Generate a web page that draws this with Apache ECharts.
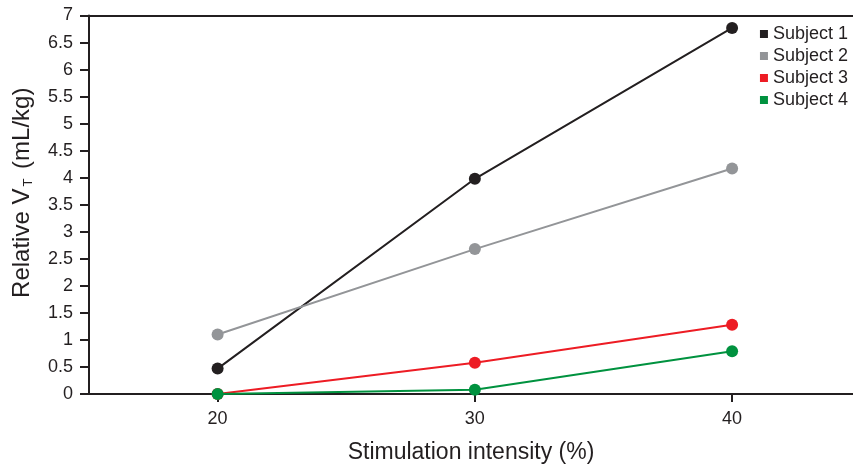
<!DOCTYPE html>
<html><head><meta charset="utf-8">
<script src="https://cdn.jsdelivr.net/npm/echarts@6/dist/echarts.min.js"></script>
<style>html,body{margin:0;padding:0;background:#fff}#c{width:853px;height:467px}</style>
</head><body><div id="c"></div>
<script>
const intensities = [20, 30, 40];
const xTicks = [20, 30, 40];
const subject1 = [0.47, 3.98, 6.77];
const subject2 = [1.1, 2.68, 4.17];
const subject3 = [0.0, 0.58, 1.28];
const subject4 = [0.0, 0.08, 0.79];
const seriesNames = ['Subject 1', 'Subject 2', 'Subject 3', 'Subject 4'];
const colors = ['#231f20', '#939598', '#ed1c24', '#00923f'];
const allData = [subject1, subject2, subject3, subject4];

const font = 'Liberation Sans, Arial, Helvetica, sans-serif';
const ink = '#231f20';
const chart = echarts.init(document.getElementById('c'));
chart.setOption({
  animation: false,
  backgroundColor: '#fff',
  grid: { left: 89, right: 0, top: 15.5, bottom: 73, containLabel: false, outerBoundsMode: 'none' },
  legend: {
    orient: 'vertical', right: 0, top: 20, icon: 'rect', itemWidth: 8, itemHeight: 8, itemGap: 4,
    textStyle: { fontFamily: font, fontSize: 18, color: ink },
    data: seriesNames
  },
  xAxis: [{
    type: 'value', min: 15, max: 44.7, position: 'bottom',
    axisLine: { show: true, onZero: false, lineStyle: { color: ink, width: 2 } },
    axisTick: { show: true, length: 8, lineStyle: { color: ink, width: 2 }, customValues: xTicks },
    axisLabel: { fontFamily: font, fontSize: 18, color: ink, margin: 16, customValues: xTicks },
    splitLine: { show: false },
    name: 'Stimulation intensity (%)', nameLocation: 'middle', nameGap: 47,
    nameTextStyle: { fontFamily: font, fontSize: 23, color: ink }
  }, {
    type: 'value', min: 15, max: 44.7, position: 'top',
    axisLine: { show: true, onZero: false, lineStyle: { color: ink, width: 2 } },
    axisTick: { show: false }, axisLabel: { show: false }, splitLine: { show: false }
  }],
  yAxis: {
    type: 'value', min: 0, max: 7, interval: 0.5,
    axisLine: { show: true, lineStyle: { color: ink, width: 2 } },
    axisTick: { show: true, length: 9, lineStyle: { color: ink, width: 2 } },
    axisLabel: { fontFamily: font, fontSize: 18, color: ink, margin: 16 },
    splitLine: { show: false },
    name: '{a|Relative V}{b|T}{a| (mL/kg)}', nameLocation: 'middle', nameGap: 54, nameRotate: 90,
    nameTextStyle: {
      fontFamily: font, fontSize: 24, color: ink, padding: [0, 0, 0, 24],
      rich: {
        a: { fontFamily: font, fontSize: 24, color: ink },
        b: { fontFamily: font, fontSize: 13, color: ink, verticalAlign: 'bottom', padding: [12, 3, 0, 2] }
      }
    }
  },
  series: allData.map((d, i) => ({
    name: seriesNames[i], type: 'line',
    data: intensities.map((x, j) => [x, d[j]]),
    symbol: 'circle', symbolSize: 12,
    lineStyle: { color: colors[i], width: 2 },
    itemStyle: { color: colors[i] },
    z: 2 + i
  }))
});
</script></body></html>
